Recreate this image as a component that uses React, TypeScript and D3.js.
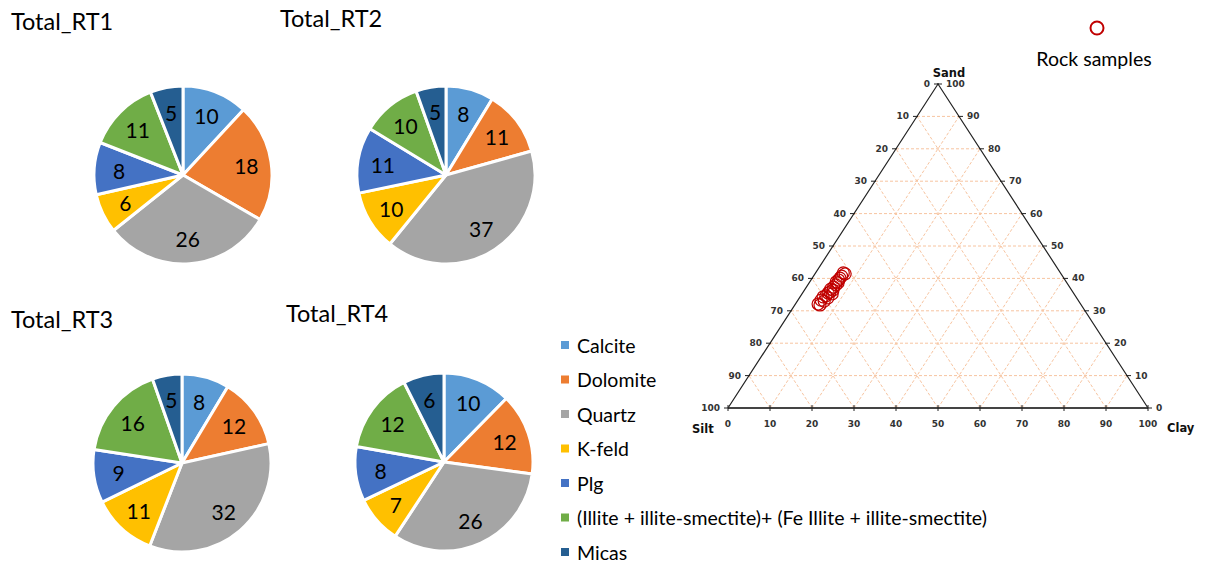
import { useEffect, useRef } from 'react';
import * as d3 from 'd3';

// Mineral categories (legend order = slice order, clockwise from 12 o'clock)
const minerals = [
  'Calcite',
  'Dolomite',
  'Quartz',
  'K-feld',
  'Plg',
  '(Illite + illite-smectite)+ (Fe Illite + illite-smectite)',
  'Micas',
];
const mineralColors = ['#5b9bd5', '#ed7d31', '#a5a5a5', '#ffc000', '#4472c4', '#70ad47', '#255e91'];

const rt1 = [10, 18, 26, 6, 8, 11, 5];
const rt2 = [8, 11, 37, 10, 11, 10, 5];
const rt3 = [8, 12, 32, 11, 9, 16, 5];
const rt4 = [10, 12, 26, 7, 8, 12, 6];
const pieTitles = ['Total_RT1', 'Total_RT2', 'Total_RT3', 'Total_RT4'];

// Rock samples (sand %, clay %; silt is the rest)
const sampleSand = [32.1, 33.3, 34.3, 34.6, 35.5, 35.8, 36.7, 36.4, 37.3, 38.0, 38.9, 38.6, 39.5, 40.1, 40.7, 41.7, 41.4, 33.0, 34.0, 35.2, 31.8];
const sampleClay = [5.4, 5.5, 5.5, 6.0, 6.1, 6.4, 6.1, 6.8, 6.5, 6.7, 6.3, 6.9, 6.6, 6.6, 6.7, 6.6, 7.2, 6.4, 6.8, 7.2, 6.0];

const ternaryTicks = [0, 10, 20, 30, 40, 50, 60, 70, 80, 90, 100];

const WIDTH = 1208;
const HEIGHT = 565;

export default function App() {
  const svgRef = useRef<SVGSVGElement>(null);

  useEffect(() => {
    if (!svgRef.current) return;
    const svg = d3.select(svgRef.current);
    svg.selectAll('*').remove();
    svg.attr('width', WIDTH).attr('height', HEIGHT);

    const font = 'Lato, "Open Sans", sans-serif';

    // --- Pies ---
    const pies = [
      { data: rt1, cx: 183, cy: 175, tx: 11, ty: 30 },
      { data: rt2, cx: 446, cy: 175, tx: 280, ty: 27 },
      { data: rt3, cx: 182, cy: 463, tx: 11, ty: 328 },
      { data: rt4, cx: 444, cy: 462, tx: 286, ty: 322 },
    ];
    const radius = 89;
    const pieGen = d3.pie<number>().sort(null).value((d) => d);
    const arcGen = d3.arc<d3.PieArcDatum<number>>().innerRadius(0).outerRadius(radius);
    const labelArc = d3
      .arc<d3.PieArcDatum<number>>()
      .innerRadius(radius * 0.72)
      .outerRadius(radius * 0.72);

    pies.forEach((p, i) => {
      svg
        .append('text')
        .attr('x', p.tx)
        .attr('y', p.ty)
        .attr('font-family', font)
        .attr('font-size', '23.5px')
        .attr('fill', '#000')
        .text(pieTitles[i]);

      const g = svg.append('g').attr('transform', `translate(${p.cx},${p.cy})`);
      const arcs = pieGen(p.data);
      g.selectAll('path')
        .data(arcs)
        .enter()
        .append('path')
        .attr('d', arcGen)
        .attr('fill', (_, j) => mineralColors[j])
        .attr('stroke', '#fff')
        .attr('stroke-width', 3)
        .attr('stroke-linejoin', 'round');

      g.selectAll('text')
        .data(arcs)
        .enter()
        .append('text')
        .attr('transform', (d) => `translate(${labelArc.centroid(d)})`)
        .attr('text-anchor', 'middle')
        .attr('dominant-baseline', 'central')
        .attr('font-family', font)
        .attr('font-size', '21px')
        .attr('fill', '#000')
        .text((d) => `${d.data}`);
    });

    // --- Legend ---
    const legend = svg.append('g').attr('transform', 'translate(561,345)');
    minerals.forEach((m, i) => {
      const y = i * 34.5;
      legend
        .append('rect')
        .attr('x', 0)
        .attr('y', y - 4)
        .attr('width', 8)
        .attr('height', 8)
        .attr('fill', mineralColors[i]);
      legend
        .append('text')
        .attr('x', 16)
        .attr('y', y)
        .attr('dominant-baseline', 'central')
        .attr('font-family', font)
        .attr('font-size', '19.5px')
        .attr('fill', '#000')
        .text(m);
    });

    // --- Ternary plot ---
    const xScale = d3.scaleLinear().domain([0, 100]).range([728, 1148]);
    const yScale = d3.scaleLinear().domain([0, 100]).range([408, 84]);
    const pt = (sand: number, clay: number): [number, number] => [xScale(clay + sand / 2), yScale(sand)];

    const tern = svg.append('g');
    const gridColor = '#f7c4a0';
    const inner = ternaryTicks.slice(1, -1);
    const gridLines: [[number, number], [number, number]][] = [];
    inner.forEach((k) => {
      gridLines.push([pt(k, 0), pt(k, 100 - k)]); // constant sand
      gridLines.push([pt(0, k), pt(100 - k, k)]); // constant clay
      gridLines.push([pt(0, 100 - k), pt(100 - k, 0)]); // constant silt
    });
    tern
      .selectAll('line.grid')
      .data(gridLines)
      .enter()
      .append('line')
      .attr('x1', (d) => d[0][0])
      .attr('y1', (d) => d[0][1])
      .attr('x2', (d) => d[1][0])
      .attr('y2', (d) => d[1][1])
      .attr('stroke', gridColor)
      .attr('stroke-width', 1)
      .attr('stroke-dasharray', '3,2');

    const [ax, ay] = pt(100, 0);
    const [bx, by] = pt(0, 0);
    const [cx, cy] = pt(0, 100);
    tern
      .append('path')
      .attr('d', `M${bx},${by}L${ax},${ay}L${cx},${cy}`)
      .attr('fill', 'none')
      .attr('stroke', '#222')
      .attr('stroke-width', 1.2);
    tern
      .append('line')
      .attr('x1', bx)
      .attr('y1', by)
      .attr('x2', cx)
      .attr('y2', cy)
      .attr('stroke', '#444')
      .attr('stroke-width', 2);

    const tickFont = '"DejaVu Sans", sans-serif';
    const tickLabel = (x: number, y: number, anchor: string, txt: string) =>
      tern
        .append('text')
        .attr('x', x)
        .attr('y', y)
        .attr('text-anchor', anchor)
        .attr('dominant-baseline', 'central')
        .attr('font-family', tickFont)
        .attr('font-weight', 'bold')
        .attr('font-size', '9px')
        .attr('fill', '#333')
        .text(txt);

    ternaryTicks.forEach((k) => {
      // left axis: silt
      const [lx, ly] = pt(100 - k, 0);
      tern.append('line').attr('x1', lx - 4).attr('y1', ly).attr('x2', lx + 1).attr('y2', ly).attr('stroke', '#222');
      tickLabel(lx - 8, ly, 'end', `${k}`);
      // right axis: sand
      const [rx, ry] = pt(k, 100 - k);
      tern.append('line').attr('x1', rx - 1).attr('y1', ry).attr('x2', rx + 4).attr('y2', ry).attr('stroke', '#222');
      tickLabel(rx + 8, ry, 'start', `${k}`);
      // bottom axis: clay
      const [bxk, byk] = pt(0, k);
      tern.append('line').attr('x1', bxk).attr('y1', byk - 3).attr('x2', bxk).attr('y2', byk + 3).attr('stroke', '#222');
      tickLabel(bxk, byk + 16, 'middle', `${k}`);
    });

    const axisNames: [string, number, number, string][] = [
      ['Sand', ax + 11, ay - 11, 'middle'],
      ['Silt', bx - 36, by + 21, 'start'],
      ['Clay', cx + 19, cy + 20, 'start'],
    ];
    axisNames.forEach(([name, x, y, anchor]) => {
      tern
        .append('text')
        .attr('x', x)
        .attr('y', y)
        .attr('text-anchor', anchor)
        .attr('dominant-baseline', 'central')
        .attr('font-family', tickFont)
        .attr('font-weight', 'bold')
        .attr('font-size', '11.5px')
        .attr('fill', '#111')
        .text(name);
    });

    // samples
    tern
      .selectAll('circle.sample')
      .data(sampleSand.map((s, i) => pt(s, sampleClay[i])))
      .enter()
      .append('circle')
      .attr('cx', (d) => d[0])
      .attr('cy', (d) => d[1])
      .attr('r', 6)
      .attr('fill', 'none')
      .attr('stroke', '#c00000')
      .attr('stroke-width', 1.2);

    // sample legend
    svg
      .append('circle')
      .attr('cx', 1097)
      .attr('cy', 28)
      .attr('r', 6.5)
      .attr('fill', 'none')
      .attr('stroke', '#c00000')
      .attr('stroke-width', 2);
    svg
      .append('text')
      .attr('x', 1094)
      .attr('y', 66)
      .attr('text-anchor', 'middle')
      .attr('font-family', font)
      .attr('font-size', '19.5px')
      .attr('fill', '#000')
      .text('Rock samples');
  }, []);

  return (
    <svg
      ref={svgRef}
      style={{ position: 'absolute', left: 0, top: 0, display: 'block', background: '#fff' }}
    />
  );
}
